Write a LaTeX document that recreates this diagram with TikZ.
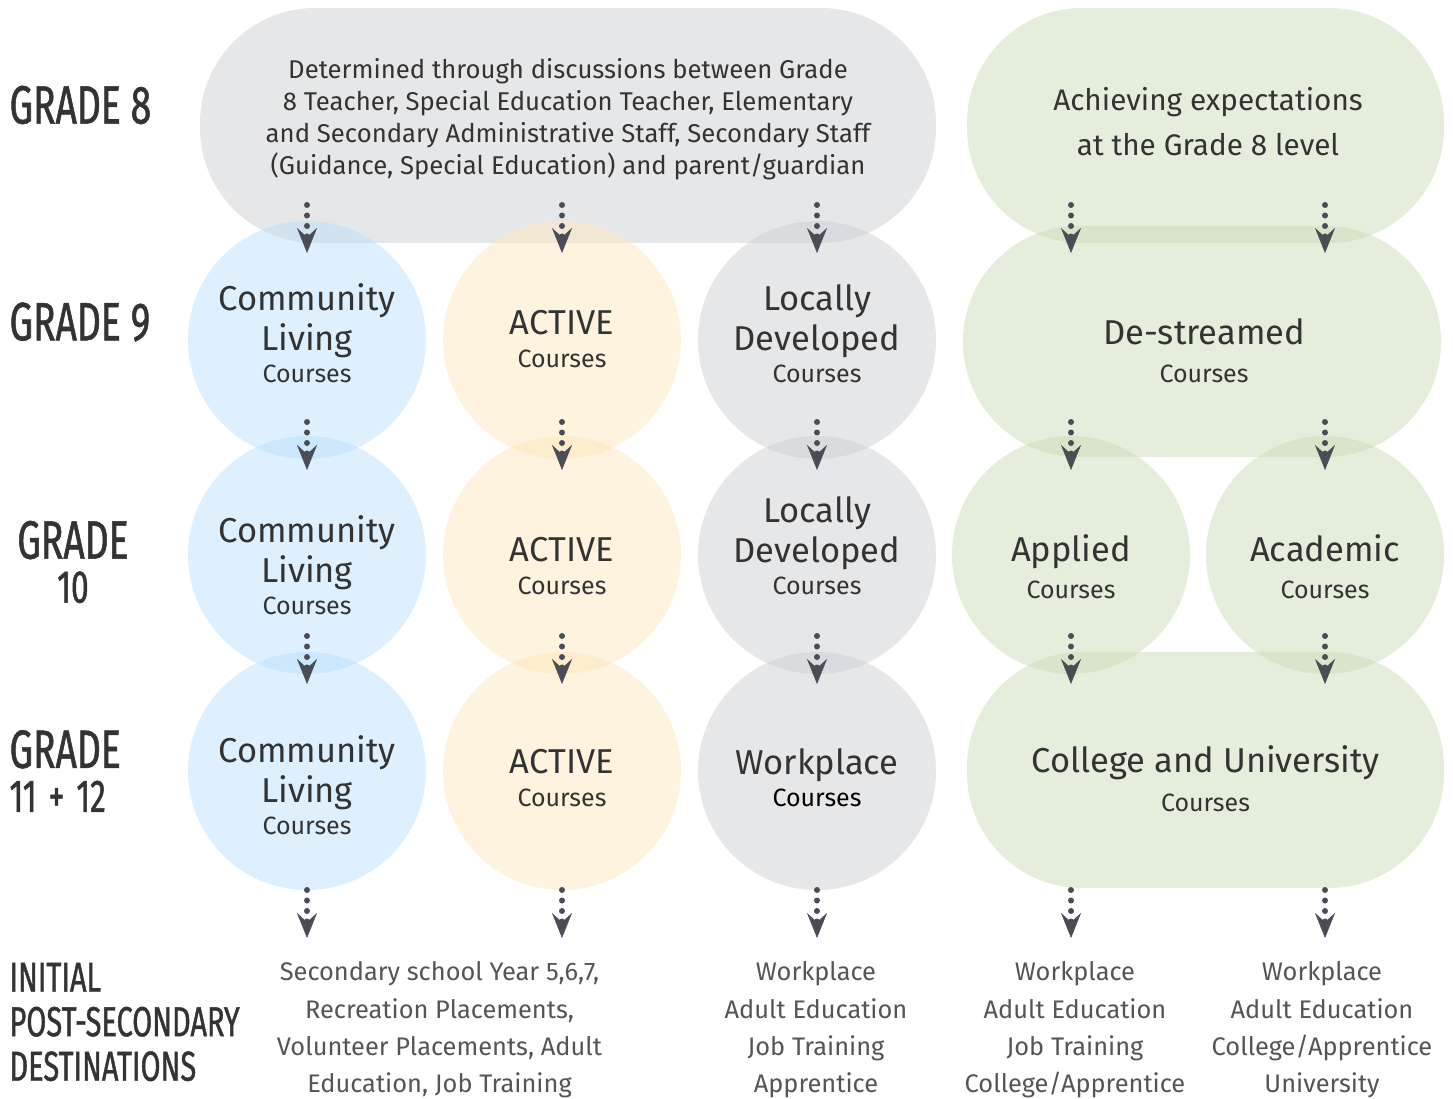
\documentclass[tikz,border=0pt]{standalone}
\usepackage{fontspec}
\setmainfont{Fira Sans}
\newfontfamily\gradefont[FakeStretch=0.69,FakeBold=1]{Fira Sans}
\usetikzlibrary{arrows.meta}
\definecolor{clblue}{RGB}{189,223,251}
\definecolor{actorange}{RGB}{253,231,189}
\definecolor{ldgray}{RGB}{205,207,211}
\definecolor{acgreen}{RGB}{203,221,185}
\definecolor{arrowgray}{RGB}{74,77,85}
\definecolor{txtdark}{RGB}{51,51,51}
\definecolor{txtgray}{RGB}{85,85,85}
\newcommand{\tikzFlowArrow}[3]{
  \coordinate (#1s) at (#2,#3);
  \coordinate (#1e) at (#2,#3+48);
  \draw[flow] (#1s) -- (#1e);
}
\newcommand{\crs}{\fontsize{25}{30}\selectfont Courses}
\tikzset{
  course/.style={circle,inner sep=0pt,minimum size=238pt,fill opacity=0.5},
  pill/.style={rectangle,rounded corners=115pt,inner sep=0pt,fill opacity=0.5},
  coursetxt/.style={text=txtdark,align=center,font=\fontsize{34.5}{40}\selectfont},
  grade/.style={text=txtdark,font=\gradefont\fontsize{54}{44}\selectfont},
  dest/.style={text=txtgray,align=center,font=\fontsize{25.4}{37.3}\selectfont},
  flow/.style={arrowgray,line width=6pt,line cap=round,dash pattern=on 0pt off 10.5pt,
    -{Stealth[length=25pt,width=20pt,inset=9pt,line width=0.5pt]}}
}
\begin{document}
\begin{tikzpicture}[x=1pt,y=-1pt]
  \useasboundingbox (0,0) rectangle (1453,1099);

  % grade labels
  \node [grade,anchor=west] (gr8) at (6,105) {GRADE 8};
  \node [grade,anchor=west] (gr9) at (6,322) {GRADE 9};
  \node [grade,align=center] (gr10) at (73,562) {GRADE\\{\fontsize{46}{44}\selectfont 10}};
  \node [grade,anchor=west,align=left] (gr11) at (6,771)
    {GRADE\\{\fontsize{46}{44}\selectfont 11\hspace{12pt}+\hspace{12pt}12}};
  \node [grade,anchor=west,align=left,font=\gradefont\fontsize{42}{44.5}\selectfont] (grdest) at (6,1022)
    {INITIAL\\POST-SECONDARY\\DESTINATIONS};

  % shapes
  \node [pill,fill=ldgray,minimum width=736pt,minimum height=235pt] (g8) at (568,125.5) {};
  \node [pill,fill=acgreen,minimum width=477pt,minimum height=235pt] (e8) at (1205.5,125.5) {};
  \node [course,fill=clblue] (cl9) at (307,340) {};
  \node [course,fill=actorange] (ac9) at (562,340) {};
  \node [course,fill=ldgray] (ld9) at (817,340) {};
  \node [pill,fill=acgreen,minimum width=478pt,minimum height=231pt] (ds9) at (1202,341.5) {};
  \node [course,fill=clblue] (cl10) at (307,555) {};
  \node [course,fill=actorange] (ac10) at (562,555) {};
  \node [course,fill=ldgray] (ld10) at (817,555) {};
  \node [course,fill=acgreen] (ap10) at (1071,555) {};
  \node [course,fill=acgreen] (ad10) at (1325,555) {};
  \node [course,fill=clblue] (cl11) at (307,771) {};
  \node [course,fill=actorange] (ac11) at (562,771) {};
  \node [course,fill=ldgray] (wp11) at (817,771) {};
  \node [pill,fill=acgreen,minimum width=477pt,minimum height=236pt] (cu11) at (1205.5,770) {};

  % texts
  \node [coursetxt,font=\fontsize{25.7}{32}\selectfont] (g8t) at (568,119.5)
    {Determined through discussions between Grade\\8 Teacher, Special Education Teacher, Elementary\\and Secondary Administrative Staff, Secondary Staff\\(Guidance, Special Education) and parent/guardian};
  \node [coursetxt,font=\fontsize{29.7}{45}\selectfont] (e8t) at (1208,121.5) {Achieving expectations\\at the Grade 8 level};
  \node [coursetxt] (cl9t) at (307,333.5) {Community\\Living\\[-8pt]\crs};
  \node [coursetxt] (ac9t) at (562,339) {ACTIVE\\[-7pt]\crs};
  \node [coursetxt] (ld9t) at (817,333.5) {Locally\\Developed\\[-8pt]\crs};
  \node [coursetxt] (ds9t) at (1204,351) {De-streamed\\[-2pt]\crs};
  \node [coursetxt] (cl10t) at (307,565) {Community\\Living\\[-8pt]\crs};
  \node [coursetxt] (ac10t) at (562,566.5) {ACTIVE\\[-7pt]\crs};
  \node [coursetxt] (ld10t) at (817,545.5) {Locally\\Developed\\[-8pt]\crs};
  \node [coursetxt] (ap10t) at (1071,566.5) {Applied\\[-3pt]\crs};
  \node [coursetxt] (ad10t) at (1325,566.5) {Academic\\[-3pt]\crs};
  \node [coursetxt] (cl11t) at (307,785) {Community\\Living\\[-8pt]\crs};
  \node [coursetxt] (ac11t) at (562,778.5) {ACTIVE\\[-7pt]\crs};
  \node [coursetxt] (wp11t) at (817,777.5) {Workplace\\[-8pt]{\color{black}\crs}};
  \node [coursetxt] (cu11t) at (1205.5,779) {College and University\\[-1pt]\crs};

  % destinations
  \node [dest] (d1) at (439.5,1030) {Secondary school Year 5,6,7,\\Recreation Placements,\\Volunteer Placements, Adult\\Education, Job Training};
  \node [dest] (d2) at (816,1030) {Workplace\\Adult Education\\Job Training\\Apprentice};
  \node [dest] (d3) at (1075,1030) {Workplace\\Adult Education\\Job Training\\College/Apprentice};
  \node [dest] (d4) at (1322,1030) {Workplace\\Adult Education\\College/Apprentice\\University};

  % arrows
  \tikzFlowArrow{a1}{307}{205}
  \tikzFlowArrow{a2}{562}{205}
  \tikzFlowArrow{a3}{817}{205}
  \tikzFlowArrow{a4}{1071}{205}
  \tikzFlowArrow{a5}{1325}{205}
  \tikzFlowArrow{b1}{307}{422}
  \tikzFlowArrow{b2}{562}{422}
  \tikzFlowArrow{b3}{817}{422}
  \tikzFlowArrow{b4}{1071}{422}
  \tikzFlowArrow{b5}{1325}{422}
  \tikzFlowArrow{c1}{307}{636}
  \tikzFlowArrow{c2}{562}{636}
  \tikzFlowArrow{c3}{817}{636}
  \tikzFlowArrow{c4}{1071}{636}
  \tikzFlowArrow{c5}{1325}{636}
  \tikzFlowArrow{e1}{307}{890}
  \tikzFlowArrow{e2}{562}{890}
  \tikzFlowArrow{e3}{817}{890}
  \tikzFlowArrow{e4}{1071}{890}
  \tikzFlowArrow{e5}{1325}{890}
\end{tikzpicture}
\end{document}
